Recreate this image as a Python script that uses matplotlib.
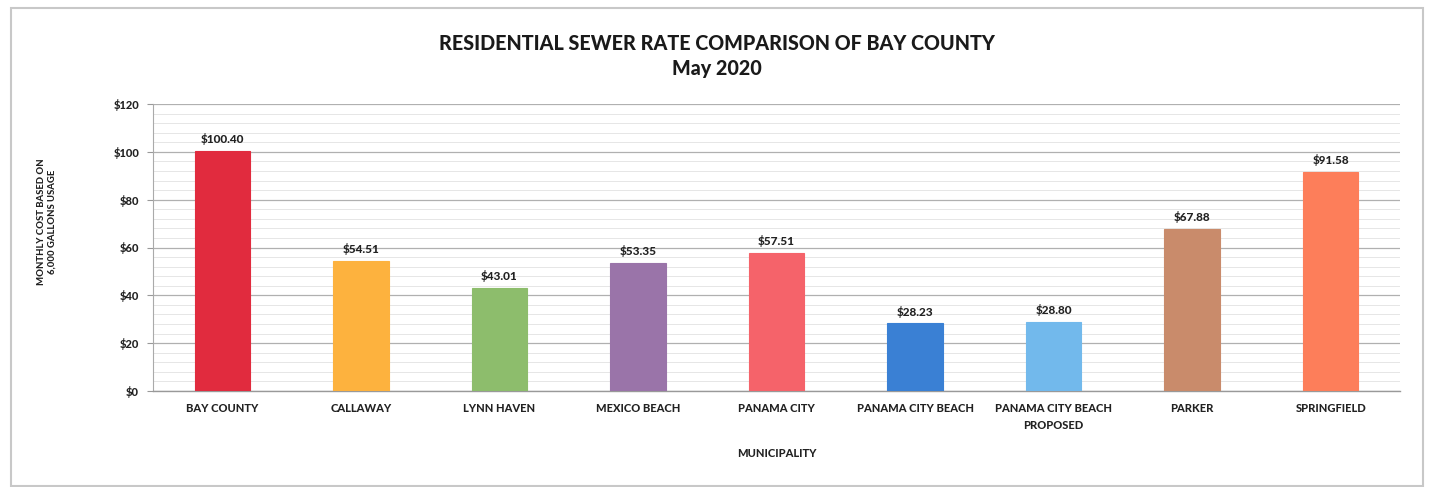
import matplotlib
matplotlib.use("Agg")
import matplotlib.pyplot as plt
from matplotlib.patches import Rectangle
from matplotlib.ticker import MultipleLocator, FuncFormatter

municipalities = ["BAY COUNTY", "CALLAWAY", "LYNN HAVEN", "MEXICO BEACH", "PANAMA CITY",
                  "PANAMA CITY BEACH", "PANAMA CITY BEACH\nPROPOSED", "PARKER", "SPRINGFIELD"]
monthly_cost = [100.40, 54.51, 43.01, 53.35, 57.51, 28.23, 28.80, 67.88, 91.58]
bar_colors = ["#E12B3E", "#FDB23E", "#8DBD6C", "#9A74A9", "#F5636A",
              "#3A80D4", "#72B9EC", "#C98B6B", "#FD7E5A"]

plt.rcParams["font.family"] = ["Lato", "DejaVu Sans"]
W = 900  # heavy weight for all chart text

fig = plt.figure(figsize=(14.35, 4.87), dpi=100)
fig.patch.set_facecolor("white")

# outer chart frame
fig.patches.append(Rectangle((11 / 1435, 1 / 487), 1412 / 1435, 478 / 487,
                             transform=fig.transFigure, fill=False,
                             edgecolor="#c8c8c8", linewidth=1.5))

ax = fig.add_axes([153 / 1435, 1 - 391 / 487, 1247 / 1435, 287 / 487])
x = range(len(municipalities))
ax.bar(x, monthly_cost, width=0.40, color=bar_colors, zorder=3,
       edgecolor=bar_colors, linewidth=0.8)

for xi, v in zip(x, monthly_cost):
    ax.text(xi, v + 2.5, f"${v:.2f}", ha="center", va="bottom",
            fontsize=8.5, fontweight=W, color="#222222")

ax.set_xlim(-0.5, len(municipalities) - 0.5)
ax.set_ylim(0, 120)
ax.yaxis.set_major_locator(MultipleLocator(20))
ax.yaxis.set_minor_locator(MultipleLocator(4))
ax.yaxis.set_major_formatter(FuncFormatter(lambda v, _: f"${v:.0f}"))
ax.grid(axis="y", which="major", color="#b0b0b0", linewidth=0.9, zorder=0)
ax.grid(axis="y", which="minor", color="#e2e2e2", linewidth=0.6, zorder=0)

ax.set_xticks(list(x))
ax.set_xticklabels(municipalities, fontsize=8, fontweight=W, color="#222222",
                   linespacing=1.6)
ax.tick_params(axis="x", length=0, pad=9)
ax.tick_params(axis="y", which="major", labelsize=8, length=4, color="#999999",
               labelcolor="#222222", pad=6)
ax.tick_params(axis="y", which="minor", length=0)
for lbl in ax.get_yticklabels():
    lbl.set_fontweight(W)

for side in ("top", "right"):
    ax.spines[side].set_visible(False)
ax.spines["left"].set_color("#aaaaaa")
ax.spines["bottom"].set_color("#999999")
ax.spines["bottom"].set_linewidth(1.0)

ax.set_xlabel("MUNICIPALITY", fontsize=8, fontweight=W, color="#222222", labelpad=12)
fig.text(47 / 1435, 1 - 222 / 487, "MONTHLY COST BASED ON\n6,000 GALLONS USAGE",
         rotation=90, ha="center", va="center", fontsize=6.8, fontweight=W,
         color="#222222", linespacing=1.15)

fig.text(717 / 1435, 1 - 43 / 487, "RESIDENTIAL SEWER RATE COMPARISON OF BAY COUNTY",
         ha="center", va="center", fontsize=14.2, fontweight=W, color="#1a1a1a")
fig.text(717 / 1435, 1 - 68 / 487, "May 2020",
         ha="center", va="center", fontsize=14.2, fontweight=W, color="#1a1a1a")

fig.savefig("out.png", dpi=100, facecolor="white")
